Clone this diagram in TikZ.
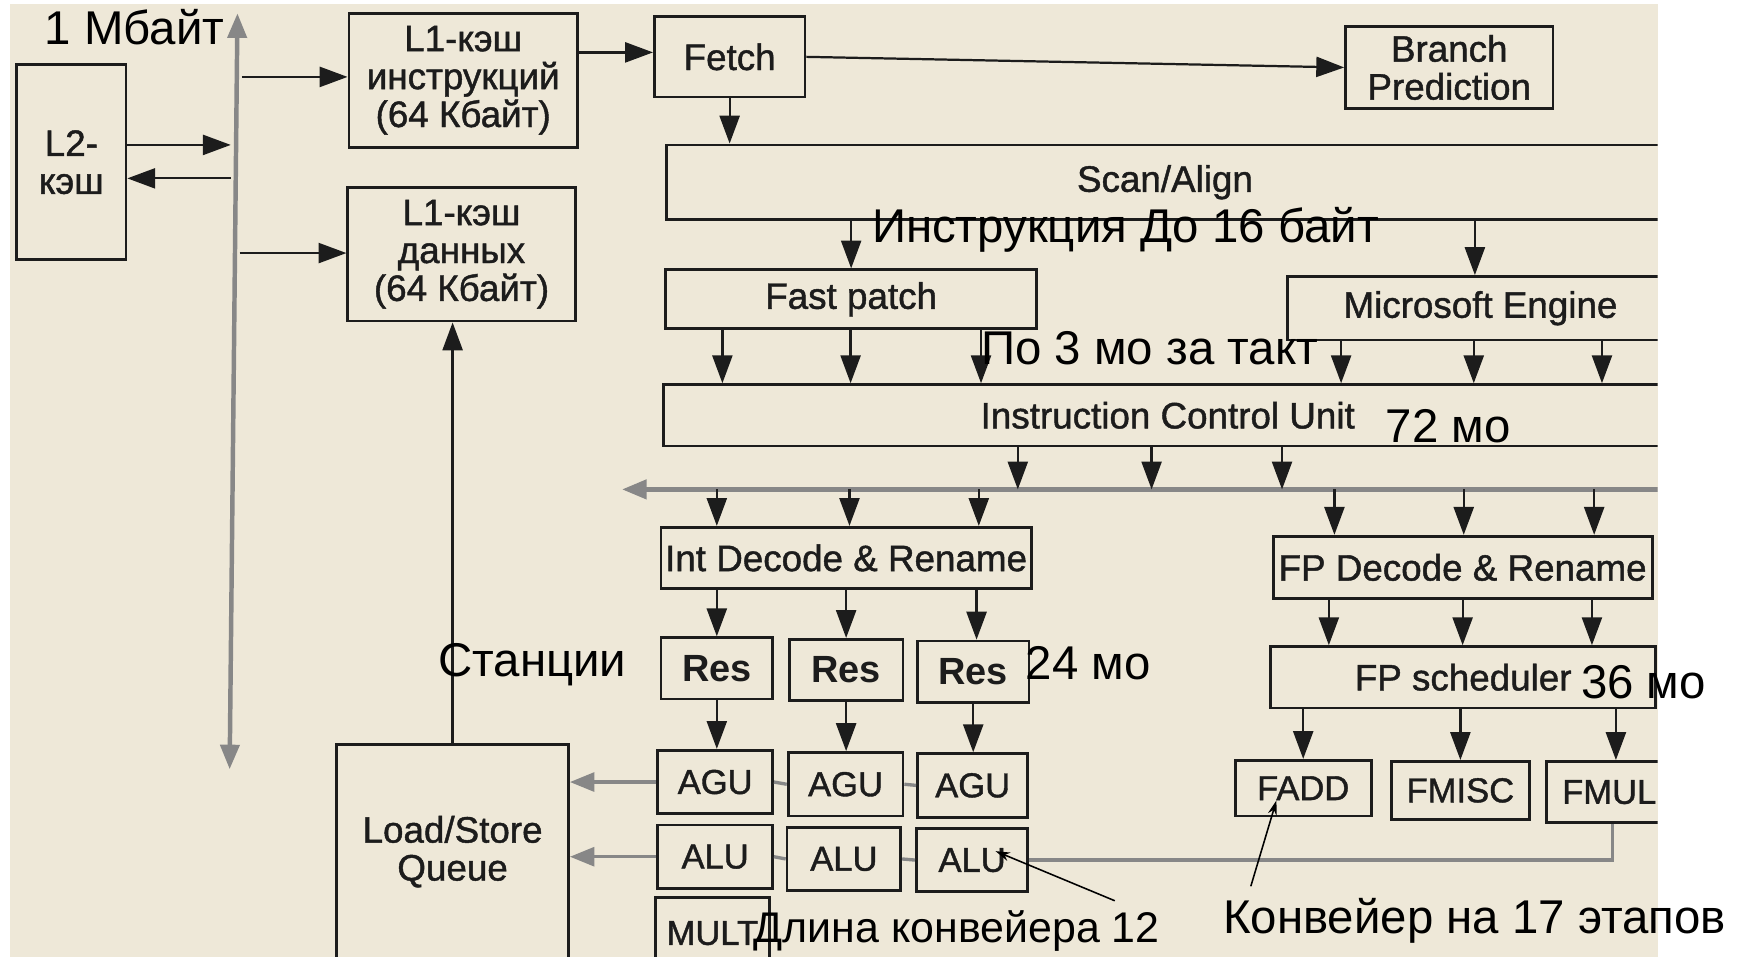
\documentclass[tikz,border=0pt]{standalone}
\usepackage{fontspec}
\setmainfont{Liberation Sans}
\newfontfamily\boxfont{Liberation Sans}[FakeBold=1.2]
\usetikzlibrary{arrows.meta}
\definecolor{paper}{RGB}{238,232,216}
\definecolor{ink}{RGB}{28,28,28}
\definecolor{busc}{RGB}{135,135,135}
\begin{document}
\begin{tikzpicture}[x=1pt,y=-1pt,
  box/.style={draw=ink, line width=2.5pt, inner sep=0pt, align=center, text=ink, font=\boxfont\fontsize{33}{34}\selectfont},
  sbox/.style={box, font=\boxfont\fontsize{31}{31}\selectfont},
  rbox/.style={box, font=\fontsize{34}{34}\selectfont\bfseries},
  arr/.style={draw=ink, line width=2pt, -{Triangle[length=25pt,width=18pt]}},
  gbus/.style={draw=busc, line width=4pt},
  gline/.style={draw=busc, line width=3pt},
  gtip/.style={-{Triangle[length=22pt,width=17pt]}},
  note/.style={text=black, inner sep=0pt, anchor=west, font=\fontsize{42.5}{44}\selectfont},
  pointer/.style={draw=black, line width=1.4pt, -{Stealth[length=13pt,width=8pt]}}]
\useasboundingbox (0,0) rectangle (1568,861);
\fill[white] (0,0) rectangle (1568,861);
\fill[paper] (9,4) rectangle (1487,858);
\begin{scope}
\clip (9,4) rectangle (1487,858);
% boxes
\node[box, minimum width=98, minimum height=175] (L2) at (64,145.5) {L2-\\кэш};
\node[box, minimum width=205, minimum height=120] (L1i) at (415.5,72) {L1-кэш\\инструкций\\(64 Кбайт)};
\node[box, minimum width=204, minimum height=120] (L1d) at (414,228) {L1-кэш\\данных\\(64 Кбайт)};
\node[box, minimum width=135, minimum height=72] (Fetch) at (654.5,51) {Fetch};
\node[box, minimum width=186, minimum height=73] (Branch) at (1300,60.5) {Branch\\Prediction};
\node[box, minimum width=894, minimum height=67] (Scan) at (1045,163.5) {Scan/Align};
\node[box, minimum width=333, minimum height=53] (Fast) at (763.5,268.5) {Fast patch};
\node[box, minimum width=346, minimum height=57] (MS) at (1328,276.5) {Microsoft Engine};
\node[box, minimum width=905, minimum height=55] (ICU) at (1047.5,372.5) {Instruction Control Unit};
\node[box, minimum width=332, minimum height=55] (IntD) at (759,500.5) {Int Decode \& Rename};
\node[box, minimum width=340, minimum height=56] (FPD) at (1312,509) {FP Decode \& Rename};
\node[rbox, minimum width=100, minimum height=55] (ResA) at (643,599.5) {Res};
\node[rbox, minimum width=102, minimum height=55] (ResB) at (759,601) {Res};
\node[rbox, minimum width=100, minimum height=55] (ResC) at (873,602.5) {Res};
\node[box, minimum width=345, minimum height=55] (FPS) at (1312.5,607.5) {FP scheduler};
\node[sbox, minimum width=103, minimum height=57] (AGUA) at (641.5,701.5) {AGU};
\node[sbox, minimum width=103, minimum height=57] (AGUB) at (758.5,703.5) {AGU};
\node[sbox, minimum width=99, minimum height=57] (AGUC) at (872.5,704.5) {AGU};
\node[sbox, minimum width=103, minimum height=57] (ALUA) at (641.5,768.5) {ALU};
\node[sbox, minimum width=102, minimum height=57] (ALUB) at (757,770.5) {ALU};
\node[sbox, minimum width=100, minimum height=57] (ALUC) at (872,771.5) {ALU};
\node[sbox, minimum width=102, minimum height=64] (MULT) at (639,837) {MULT};
\node[sbox, minimum width=122, minimum height=50] (FADD) at (1169,707) {FADD};
\node[sbox, minimum width=124, minimum height=52] (FMISC) at (1310,709) {FMISC};
\node[sbox, minimum width=113, minimum height=55] (FMUL) at (1443.5,710.5) {FMUL};
\node[box, minimum width=208, minimum height=192] (LS) at (406,764) {Load/Store\\Queue};
% bus coordinates
\coordinate (busT) at (213,12);
\coordinate (busB) at (206,690);
\coordinate (b1) at (207,130);
\coordinate (b2) at (207,160);
\coordinate (b3) at (217,69);
\coordinate (b4) at (215,227);
\coordinate (f1) at (550,47);
\coordinate (bus2L) at (558,439);
\coordinate (bus2R) at (1500,439);
% gray buses
\draw[gbus, {Triangle[length=22pt,width=17pt]}-{Triangle[length=22pt,width=17pt]}] (busT) -- (busB);
\draw[gbus, {Triangle[length=22pt,width=17pt]}-] (bus2L) -- (bus2R);
% arrows
\draw[arr] (L2.east |- b1) -- (b1);
\draw[arr] (b2) -- (L2.east |- b2);
\draw[arr] (b3) -- (L1i.west |- b3);
\draw[arr] (b4) -- (L1d.west |- b4);
\draw[arr] (L1i.east |- f1) -- (Fetch.west |- f1);
\draw[arr] (Fetch.east) -- (Branch.west);
\draw[arr] (Fetch.south) -- (Fetch.south |- Scan.north);
\draw[arr] (Fast.north |- Scan.south) -- (Fast.north);
\draw[arr] ([xshift=-5pt]MS.north |- Scan.south) -- ([xshift=-5pt]MS.north);
\foreach \s in {-115.5,-0.5,116.5}
  \draw[arr] ([xshift=\s pt]Fast.south) -- ([xshift=\s pt]Fast.south |- ICU.north);
\foreach \s in {-125,-6,109}
  \draw[arr] ([xshift=\s pt]MS.south) -- ([xshift=\s pt]MS.south |- ICU.north);
\foreach \s in {-134.5,-14.5,102.5}
  \draw[arr] ([xshift=\s pt]ICU.south) -- ([xshift=\s pt]ICU.south |- bus2L);
\foreach \s in {-116,3,119}
  \draw[arr] ([xshift=\s pt]IntD.north |- bus2L) -- ([xshift=\s pt]IntD.north);
\foreach \s in {-115,1,118}
  \draw[arr] ([xshift=\s pt]FPD.north |- bus2L) -- ([xshift=\s pt]FPD.north);
\draw[arr] (ResA.north |- IntD.south) -- (ResA.north);
\draw[arr] (ResB.north |- IntD.south) -- (ResB.north);
\draw[arr] ([xshift=3pt]ResC.north |- IntD.south) -- ([xshift=3pt]ResC.north);
\foreach \s in {-120.5,-0.5,115.5}
  \draw[arr] ([xshift=\s pt]FPS.north |- FPD.south) -- ([xshift=\s pt]FPS.north);
\draw[arr] (ResA.south) -- (ResA.south |- AGUA.north);
\draw[arr] (ResB.south) -- (ResB.south |- AGUB.north);
\draw[arr] (ResC.south) -- (ResC.south |- AGUC.north);
\draw[arr] (FADD.north |- FPS.south) -- (FADD.north);
\draw[arr] (FMISC.north |- FPS.south) -- (FMISC.north);
\draw[arr] ([xshift=6pt]FMUL.north |- FPS.south) -- ([xshift=6pt]FMUL.north);
\draw[arr] (LS.north) -- (LS.north |- L1d.south);
% gray result lines
\draw[gline, gtip] (AGUA.west) -- (LS.east |- AGUA.west);
\draw[gline] (AGUA.east) -- (AGUB.west);
\draw[gline] (AGUB.east) -- (AGUC.west);
\draw[gline, gtip] (ALUA.west) -- (LS.east |- ALUA.west);
\draw[gline] (ALUA.east) -- (ALUB.west);
\draw[gline] (ALUB.east) -- (ALUC.west);
\draw[gline] (ALUC.east) -| ([xshift=3pt]FMUL.south);
\end{scope}
% overlay notes
\node[note] (n1) at (40,24) {1 Мбайт};
\node[note] (n2) at (782,206) {Инструкция До 16 байт};
\node[note] (n3) at (880,312) {По 3 мо за такт};
\node[note] (n4) at (1243,382) {72 мо};
\node[note] (n5) at (393,596) {Станции};
\node[note] (n6) at (920,595) {24 мо};
\node[note] (n7) at (1418,612) {36 мо};
\node[note, font=\fontsize{38.5}{40}\selectfont] (n8) at (676,835) {Длина конвейера 12};
\node[note] (n9) at (1097,826) {Конвейер на 17 этапов};
\coordinate (a8) at (1000,808);
\coordinate (a9) at (1122,795);
\draw[pointer] (a8) -- ([xshift=21pt,yshift=8pt]ALUC.center);
\draw[pointer] (a9) -- ([xshift=-24pt,yshift=-11pt]FADD.center);
\end{tikzpicture}
\end{document}
